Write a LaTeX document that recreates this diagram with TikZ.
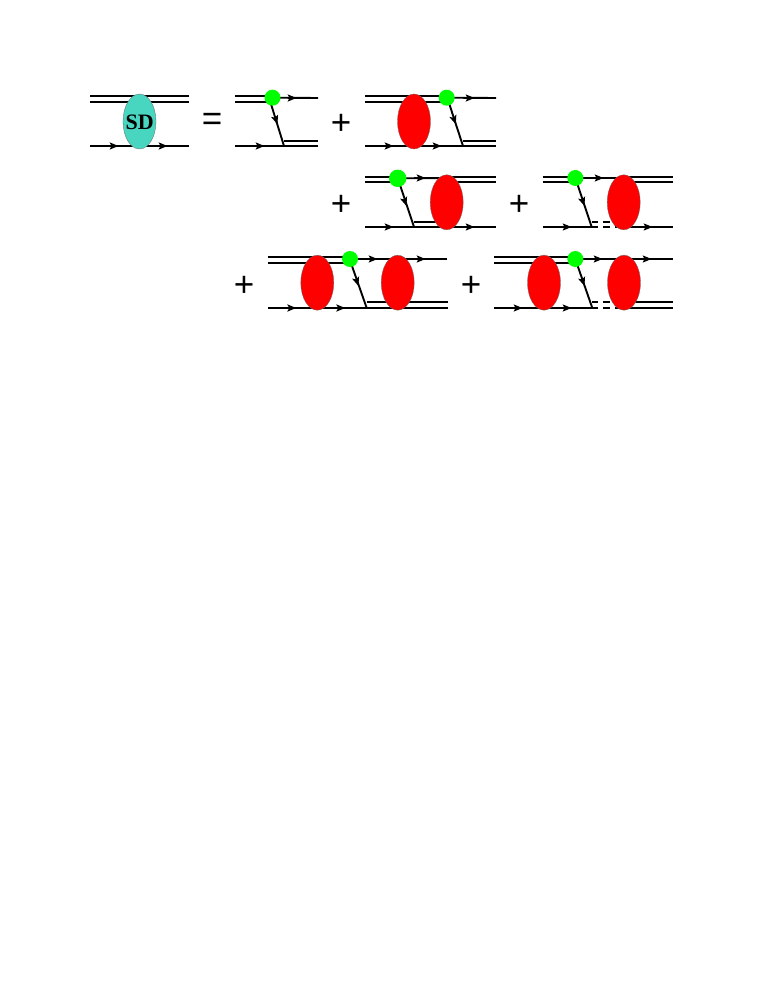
\documentclass[tikz,border=0pt]{standalone}
\usepackage{fontspec}
\setmainfont{Liberation Sans}
\newfontfamily\serifb{Liberation Serif}
\usetikzlibrary{shapes.geometric}
\definecolor{sdteal}{RGB}{72,214,192}
\definecolor{vgreen}{RGB}{0,255,0}
\tikzset{
  fermion/.style={draw=black,line width=1.9pt},
  thin line/.style={draw=black,line width=1.9pt},
  redblob/.style={ellipse,draw=black!60,line width=0.3pt,fill=red,minimum width=33pt,minimum height=55pt,inner sep=0pt},
  tealblob/.style={ellipse,draw=black!60,line width=0.3pt,fill=sdteal,minimum width=33pt,minimum height=55pt,inner sep=0pt},
  vertexdot/.style={circle,fill=vgreen,minimum size=16pt,inner sep=0pt},
  sign/.style={inner sep=0pt,font=\fontsize{35}{35}\selectfont},
}
\newcommand{\atip}[2]{\fill[black] (#1,#2) ++(4.5,0) -- ++(-9,-3.7) -- ++(2,3.7) -- ++(-2,3.7) -- cycle;}
\newcommand{\stip}[2]{\fill[black,shift={(#1,#2)},rotate=-71] (4.5,0) -- (-4.5,3.7) -- (-2.5,0) -- (-4.5,-3.7) -- cycle;}
\begin{document}
\begin{tikzpicture}[x=1pt,y=-1pt]
\useasboundingbox (0,0) rectangle (763,987);
% --- SD diagram
\coordinate (a1) at (90,96); \coordinate (a2) at (189,96);
\coordinate (a3) at (90,102); \coordinate (a4) at (189,102);
\coordinate (a5) at (90,146); \coordinate (a6) at (189,146);
\draw[thin line] (a1)--(a2); \draw[thin line] (a3)--(a4); \draw[fermion] (a5)--(a6);
\atip{114}{146} \atip{163}{146}
\node[tealblob] (sd) at (139.5,121.5) {};
\node[inner sep=0pt,font=\serifb\bfseries\fontsize{22}{22}\selectfont] (sdl) at (139.8,122) {SD};
\node[sign] (eq) at (212,121.5) {=};
% --- diagram 2
\node[sign] (p1) at (341,124) {+};
\coordinate (b1) at (235,96); \coordinate (b2) at (272,96);
\coordinate (b3) at (235,102); \coordinate (b4) at (272,102);
\coordinate (b5) at (318,98); \coordinate (b6) at (235,146); \coordinate (b7) at (318,146);
\coordinate (b8) at (284,146); \coordinate (b9) at (284,141); \coordinate (b10) at (318,141);
\coordinate (bv) at (272.5,97.7); \coordinate (bs) at (271,104);
\draw[thin line] (b1)--(b2); \draw[thin line] (b3)--(b4);
\draw[fermion] (bv)--(b5); \draw[fermion] (b6)--(b7);
\draw[thin line] (b9)--(b10); \draw[fermion] (bs)--(b8);
\atip{292}{98} \atip{260}{146} \stip{276}{120}
\node[vertexdot] (bd) at (bv) {};
% --- diagram 3
\coordinate (c1) at (365,96); \coordinate (c2) at (447,96);
\coordinate (c3) at (365,102); \coordinate (c4) at (447,102);
\coordinate (c5) at (496,98); \coordinate (c6) at (365,146); \coordinate (c7) at (496,146);
\coordinate (c8) at (463,146); \coordinate (c9) at (463,141); \coordinate (c10) at (496,141);
\coordinate (cv) at (446.7,97.7); \coordinate (cs) at (449.3,104);
\draw[thin line] (c1)--(c2); \draw[thin line] (c3)--(c4);
\draw[fermion] (cv)--(c5); \draw[fermion] (c6)--(c7);
\draw[thin line] (c9)--(c10); \draw[fermion] (cs)--(c8);
\atip{470}{98} \atip{389}{146} \atip{437}{146} \stip{454.3}{120}
\node[redblob] (cb) at (414,121.5) {};
\node[vertexdot] (cd) at (cv) {};
% --- diagram 4
\node[sign] (p2) at (341,205) {+};
\coordinate (d1) at (365,177); \coordinate (d2) at (397,177);
\coordinate (d3) at (365,182); \coordinate (d4) at (397,182);
\coordinate (dv) at (397.7,178.3); \coordinate (d5) at (447,178);
\coordinate (d6) at (447,177); \coordinate (d7) at (496,177);
\coordinate (d8) at (447,182); \coordinate (d9) at (496,182);
\coordinate (d10) at (365,227); \coordinate (d11) at (496,227);
\coordinate (d12) at (414,222); \coordinate (d13) at (447,222);
\coordinate (d14) at (414,227); \coordinate (ds) at (400,185);
\draw[thin line] (d1)--(d2); \draw[thin line] (d3)--(d4);
\draw[fermion] (dv)--(d5); \draw[thin line] (d6)--(d7); \draw[thin line] (d8)--(d9);
\draw[fermion] (d10)--(d11); \draw[thin line] (d12)--(d13); \draw[fermion] (ds)--(d14);
\atip{421}{178} \atip{389}{227} \atip{470}{227} \stip{405}{201.7}
\node[redblob] (db) at (446.7,202.3) {};
\node[vertexdot,minimum size=17.4pt] (dd) at (dv) {};
% --- diagram 5
\node[sign] (p3) at (519,205) {+};
\coordinate (e1) at (542.7,177); \coordinate (e2) at (575,177);
\coordinate (e3) at (542.7,182); \coordinate (e4) at (575,182);
\coordinate (ev) at (575.3,178); \coordinate (e5) at (624,178);
\coordinate (e6) at (624,177); \coordinate (e7) at (673,177);
\coordinate (e8) at (624,182); \coordinate (e9) at (673,182);
\coordinate (e10) at (542.7,227); \coordinate (e11) at (598,227);
\coordinate (ek) at (591.7,227);
\coordinate (e12) at (591.7,222); \coordinate (e13) at (598,222);
\coordinate (e14) at (603,222); \coordinate (e15) at (610,222);
\coordinate (e16) at (603,227); \coordinate (e17) at (610,227);
\coordinate (e18) at (615,222); \coordinate (e19) at (624,222);
\coordinate (e20) at (615,227); \coordinate (e21) at (673,227);
\coordinate (es) at (577.7,185);
\draw[thin line] (e1)--(e2); \draw[thin line] (e3)--(e4);
\draw[fermion] (ev)--(e5); \draw[thin line] (e6)--(e7); \draw[thin line] (e8)--(e9);
\draw[fermion] (e10)--(e11); \draw[fermion] (es)--(ek);
\draw[thin line] (e12)--(e13); \draw[thin line] (e14)--(e15); \draw[thin line] (e16)--(e17);
\draw[thin line] (e18)--(e19); \draw[fermion] (e20)--(e21);
\atip{599}{178} \atip{567}{227} \atip{648}{227} \stip{583}{201.7}
\node[redblob] (eb) at (623.7,202.3) {};
\node[vertexdot] (ed) at (ev) {};
% --- diagram 6
\node[sign] (p4) at (244,286) {+};
\coordinate (f1) at (267.7,257); \coordinate (f2) at (349,257);
\coordinate (f3) at (267.7,263); \coordinate (f4) at (349,263);
\coordinate (fv) at (350,259); \coordinate (f5) at (446.7,259);
\coordinate (f6) at (268,308); \coordinate (f7) at (448,308);
\coordinate (f8) at (366.7,302); \coordinate (f9) at (448,302);
\coordinate (f10) at (366.7,308); \coordinate (fs) at (352,266);
\draw[thin line] (f1)--(f2); \draw[thin line] (f3)--(f4);
\draw[fermion] (fv)--(f5); \draw[fermion] (f6)--(f7);
\draw[thin line] (f8)--(f9); \draw[fermion] (fs)--(f10);
\atip{373}{259} \atip{421}{259} \atip{291.7}{308} \atip{340.7}{308} \stip{357}{281.7}
\node[redblob] (fb1) at (317.3,282.7) {};
\node[redblob] (fb2) at (397.7,282.7) {};
\node[vertexdot] (fd) at (fv) {};
% --- diagram 7
\node[sign] (p5) at (471,286) {+};
\coordinate (g1) at (494,257); \coordinate (g2) at (575,257);
\coordinate (g3) at (494,263); \coordinate (g4) at (575,263);
\coordinate (gv) at (575.3,259); \coordinate (g5) at (673,259);
\coordinate (g6) at (494,308); \coordinate (g7) at (598,308);
\coordinate (gk) at (592.3,308);
\coordinate (g8) at (592.3,302); \coordinate (g9) at (598,302);
\coordinate (g10) at (603,302); \coordinate (g11) at (610,302);
\coordinate (g12) at (603,308); \coordinate (g13) at (610,308);
\coordinate (g14) at (615,302); \coordinate (g15) at (673,302);
\coordinate (g16) at (615,308); \coordinate (g17) at (673,308);
\coordinate (gs) at (577.7,266);
\draw[thin line] (g1)--(g2); \draw[thin line] (g3)--(g4);
\draw[fermion] (gv)--(g5); \draw[fermion] (g6)--(g7); \draw[fermion] (gs)--(gk);
\draw[thin line] (g8)--(g9); \draw[thin line] (g10)--(g11); \draw[thin line] (g12)--(g13);
\draw[thin line] (g14)--(g15); \draw[thin line] (g16)--(g17);
\atip{598}{259} \atip{647}{259} \atip{518}{308} \atip{567}{308} \stip{583}{281.7}
\node[redblob] (gb1) at (544,282.7) {};
\node[redblob] (gb2) at (624,282.7) {};
\node[vertexdot] (gd) at (gv) {};
\end{tikzpicture}
\end{document}
